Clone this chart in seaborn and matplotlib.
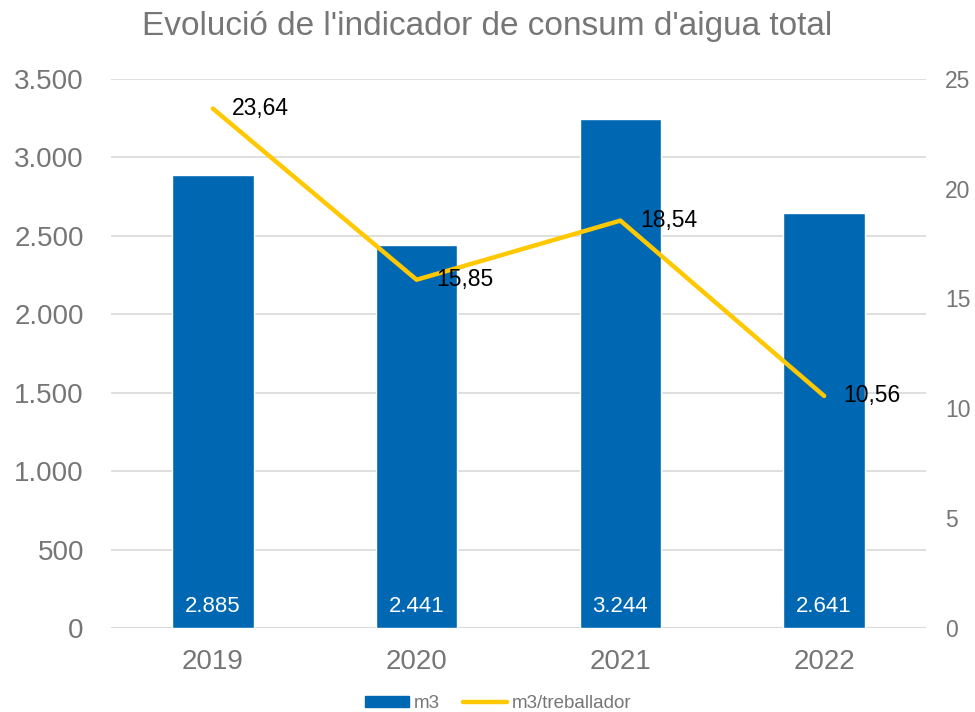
import matplotlib
matplotlib.use("Agg")
import matplotlib.pyplot as plt
import numpy as np
import pandas as pd
import seaborn as sns
from matplotlib.patches import Patch
from matplotlib.lines import Line2D

# ── Data ──────────────────────────────────────────────────────────────────────
years = ["2019", "2020", "2021", "2022"]
m3 = [2885, 2441, 3244, 2641]
m3_worker = [23.64, 15.85, 18.54, 10.56]
bar_labels = ["2.885", "2.441", "3.244", "2.641"]
line_labels = ["23,64", "15,85", "18,54", "10,56"]
left_ticks = [0, 500, 1000, 1500, 2000, 2500, 3000, 3500]
left_ticklabels = ["0", "500", "1.000", "1.500", "2.000", "2.500", "3.000", "3.500"]
right_ticks = [0, 5, 10, 15, 20, 25]

BLUE = "#0068B3"
GOLD = "#FFC800"
GREY = "#767676"
GRID = "#D9D9D9"

df = pd.DataFrame({"year": years, "m3": m3, "ratio": m3_worker})
df["pos"] = np.arange(len(df))

sns.set_style("white")
plt.rcParams["font.family"] = ["Liberation Sans", "DejaVu Sans"]

fig = plt.figure(figsize=(9.75, 7.12), dpi=100)
ax = fig.add_axes([0.1138, 0.118, 0.836, 0.7715])

sns.barplot(data=df, x="year", y="m3", color=BLUE, width=0.4, saturation=1,
            ax=ax, zorder=2)
ax.set_ylim(0, 3500)
ax.set_yticks(left_ticks)
ax.set_yticklabels(left_ticklabels)
ax.set_xlim(-0.5, len(years) - 0.5)
ax.set_xlabel(""); ax.set_ylabel("")
ax.grid(axis="y", color=GRID, linewidth=1.2, zorder=0)
ax.set_axisbelow(True)
for s in ax.spines.values():
    s.set_visible(False)
ax.tick_params(axis="y", length=0, labelsize=20, labelcolor=GREY, pad=19.5)
ax.tick_params(axis="x", length=0, labelsize=20, labelcolor=GREY, pad=15)
ax.axhline(0, color=GRID, linewidth=1.5, zorder=1)

for i, lab in enumerate(bar_labels):
    ax.text(df["pos"][i], 140, lab, color="white", fontsize=16,
            ha="center", va="center", zorder=3)

ax2 = ax.twinx()
sns.lineplot(data=df, x="pos", y="ratio", color=GOLD, linewidth=3.2,
             ax=ax2, zorder=4)
ax2.set_ylim(0, 25)
ax2.set_yticks(right_ticks)
ax2.set_xlim(-0.5, len(years) - 0.5)
ax2.set_xlabel(""); ax2.set_ylabel("")
for s in ax2.spines.values():
    s.set_visible(False)
ax2.tick_params(axis="y", length=0, labelsize=16.5, labelcolor=GREY, pad=13.5)

for i, lab in enumerate(line_labels):
    ax2.annotate(lab, (df["pos"][i], df["ratio"][i]), xytext=(14, 0),
                 textcoords="offset points", fontsize=16.5, color="black",
                 ha="left", va="center", zorder=5)

fig.suptitle("Evolució de l'indicador de consum d'aigua total", y=0.985,
             fontsize=24, color=GREY)

handles = [Patch(facecolor=BLUE, edgecolor=BLUE),
           Line2D([0], [0], color=GOLD, linewidth=3.2, solid_capstyle="round")]
fig.legend(handles, ["m3", "m3/treballador"], loc="center",
           bbox_to_anchor=(0.511, 0.012), ncol=2, frameon=False,
           fontsize=13.5, labelcolor=GREY, handlelength=2.35, handleheight=0.55,
           handletextpad=0.27, columnspacing=1.2)

fig.savefig("out.png", dpi=100)
